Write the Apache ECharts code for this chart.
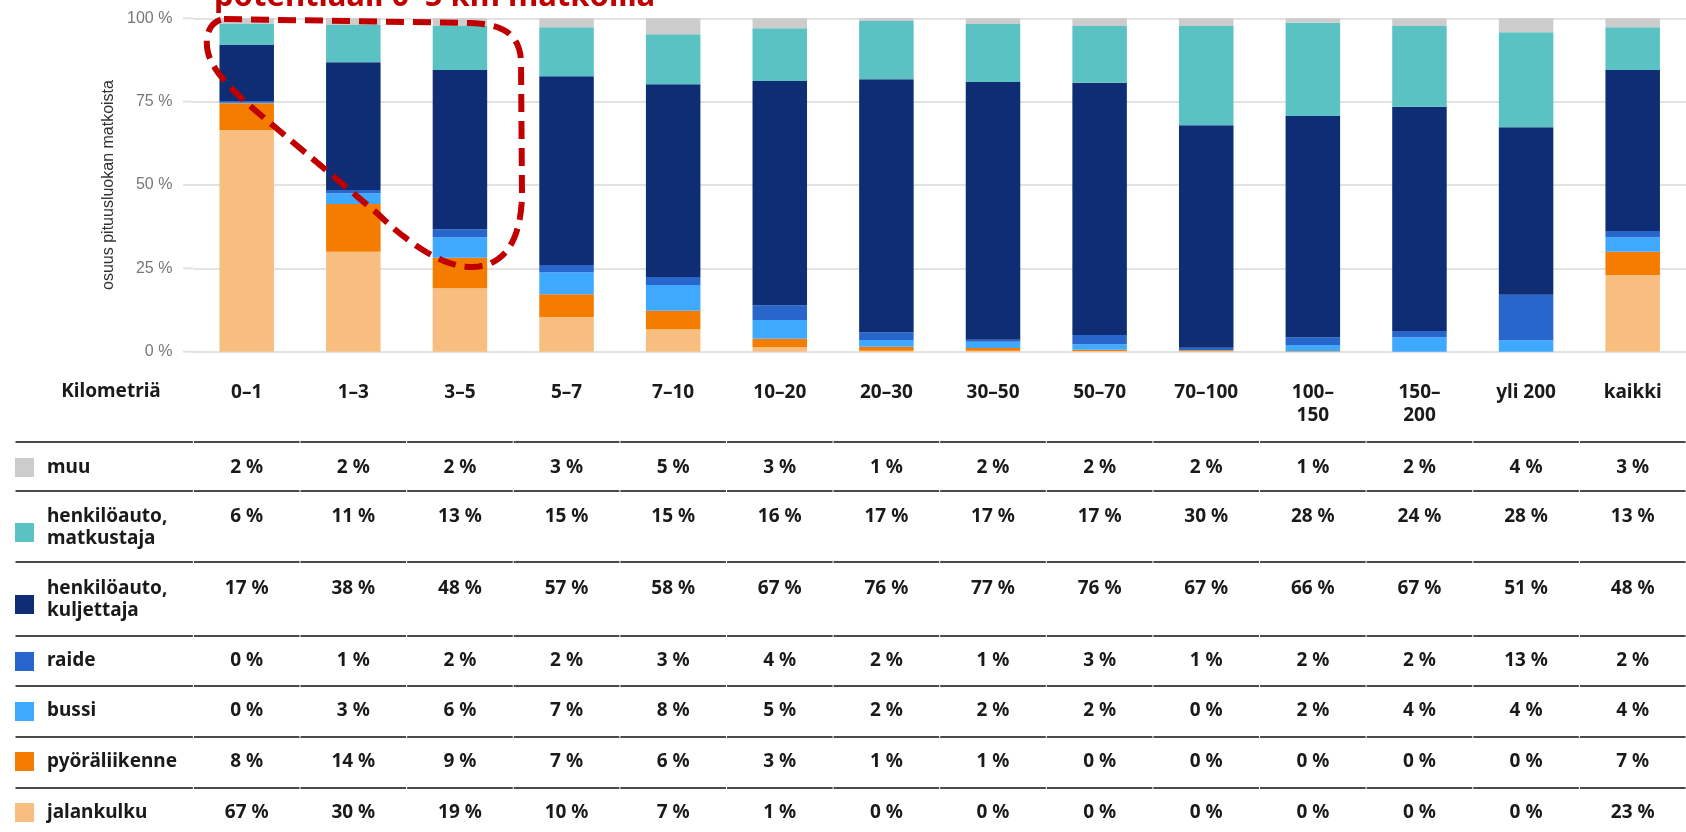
<!DOCTYPE html>
<html><head><meta charset="utf-8">
<script src="https://cdn.jsdelivr.net/npm/echarts@6/dist/echarts.min.js"></script>
<style>html,body{margin:0;padding:0;background:#fff}#c{width:1686px;height:832px}</style>
</head><body><div id="c"></div>
<script>
// ---- data ----
const categories = ['0–1','1–3','3–5','5–7','7–10','10–20','20–30','30–50','50–70','70–100','100–\n150','150–\n200','yli 200','kaikki'];
const yTicks = [0, 25, 50, 75, 100];
// bar values
const jalankulku    = [66.5, 30.0, 19.0, 10.4, 6.7, 1.3, 0.3, 0.3, 0.2, 0.1, 0.0, 0.0, 0.0, 23.0];
const pyoraliikenne = [8.0, 14.3, 9.2, 6.8, 5.6, 2.6, 1.2, 0.8, 0.4, 0.3, 0.1, 0.0, 0.0, 7.0];
const bussi         = [0.2, 3.2, 6.1, 6.6, 7.7, 5.6, 2.0, 1.9, 1.6, 0.1, 1.9, 4.3, 3.4, 4.3];
const raide         = [0.5, 1.0, 2.4, 2.2, 2.4, 4.4, 2.3, 0.6, 2.8, 0.7, 2.3, 1.9, 13.7, 1.9];
const kuljettaja    = [16.8, 38.3, 47.8, 56.6, 57.8, 67.3, 75.9, 77.3, 75.7, 66.7, 66.4, 67.3, 50.2, 48.3];
const matkustaja    = [6.3, 11.2, 13.2, 14.7, 15.0, 15.8, 17.5, 17.4, 17.0, 29.8, 28.0, 24.2, 28.5, 12.8];
const muu           = [1.7, 2.0, 2.3, 2.7, 4.8, 3.0, 0.8, 1.7, 2.3, 2.3, 1.3, 2.3, 4.2, 2.7];
// table values (rounded, as printed)
const tblMuu        = [2,2,2,3,5,3,1,2,2,2,1,2,4,3];
const tblMatkustaja = [6,11,13,15,15,16,17,17,17,30,28,24,28,13];
const tblKuljettaja = [17,38,48,57,58,67,76,77,76,67,66,67,51,48];
const tblRaide      = [0,1,2,2,3,4,2,1,3,1,2,2,13,2];
const tblBussi      = [0,3,6,7,8,5,2,2,2,0,2,4,4,4];
const tblPyora      = [8,14,9,7,6,3,1,1,0,0,0,0,0,7];
const tblJalankulku = [67,30,19,10,7,1,0,0,0,0,0,0,0,23];

// ---- styling ----
const COL = {
  muu:'#cccccc', matk:'#5bc2c4', kulj:'#0e2d75', raide:'#2966cc',
  bussi:'#3fa9ff', pyora:'#f47d00', jalan:'#f8be7f'
};
const GRID_LEFT = 193.4, GRID_TOP = 18.3, GRID_H = 333.4, GRID_W = 1501.5;
const TFONT = '"Noto Sans", "Open Sans", sans-serif';
const TCOL = '#1a1a1a';

const chart = echarts.init(document.getElementById('c'), null, {renderer:'canvas'});

function bar(name, data, color){
  return {name, type:'bar', stack:'total', data, barWidth:54.5,
    itemStyle:{color}, emphasis:{disabled:true}, animation:false};
}

chart.setOption({
  animation:false,
  backgroundColor:'#fff',
  grid:{left:GRID_LEFT, top:GRID_TOP, width:GRID_W, height:GRID_H, containLabel:false},
  xAxis:{type:'category', data:categories,
    axisLine:{show:false}, axisTick:{show:false},
    axisLabel:{interval:0, margin:29, verticalAlign:'top', color:TCOL,
      fontFamily:TFONT, fontSize:19, fontWeight:'bold', lineHeight:23}},
  yAxis:{type:'value', min:0, max:100, interval:25,
    name:'osuus pituusluokan matkoista', nameLocation:'middle', nameGap:77,
    nameTextStyle:{color:'#333', fontSize:16, fontFamily:'"Liberation Sans", Arial, sans-serif'},
    axisLine:{show:false}, axisTick:{show:false},
    axisLabel:{formatter:'{value} %', margin:21, color:'#777', fontSize:16,
      fontFamily:'"Liberation Sans", Arial, sans-serif'},
    splitLine:{lineStyle:{color:'#e2e2e2', width:2}}},
  series:[
    bar('jalankulku', jalankulku, COL.jalan),
    bar('pyöräliikenne', pyoraliikenne, COL.pyora),
    bar('bussi', bussi, COL.bussi),
    bar('raide', raide, COL.raide),
    bar('henkilöauto, kuljettaja', kuljettaja, COL.kulj),
    bar('henkilöauto, matkustaja', matkustaja, COL.matk),
    bar('muu', muu, COL.muu)
  ]
});

// ---- table + annotations ----
const rows = [
  {label:'muu', vals:tblMuu, color:COL.muu},
  {label:'henkilöauto,\nmatkustaja', vals:tblMatkustaja, color:COL.matk},
  {label:'henkilöauto,\nkuljettaja', vals:tblKuljettaja, color:COL.kulj},
  {label:'raide', vals:tblRaide, color:COL.raide},
  {label:'bussi', vals:tblBussi, color:COL.bussi},
  {label:'pyöräliikenne', vals:tblPyora, color:COL.pyora},
  {label:'jalankulku', vals:tblJalankulku, color:COL.jalan}
];
const rowLayout = [
  {text:468, sw:458, line:442},
  {text:517, sw:523, line:491},
  {text:589, sw:595, line:562},
  {text:661, sw:652, line:636},
  {text:711, sw:702, line:686},
  {text:762, sw:752, line:737},
  {text:813, sw:803, line:788}
];
const LH = 22;
const g = [];
function txt(text, x, y, align){
  return {type:'text', silent:true, z:10,
    style:{text, x, y:y - LH/2, fill:TCOL, fontFamily:TFONT, fontSize:19, fontWeight:'bold',
      align, verticalAlign:'top', lineHeight:LH}};
}
const xs = categories.map((c,i)=>chart.convertToPixel({xAxisIndex:0}, i));
const band = xs.length>1 ? xs[1]-xs[0] : 107;
g.push(txt('Kilometriä', 111, 392, 'center'));
rows.forEach((r,ri)=>{
  const L = rowLayout[ri];
  const segs = [[15, xs[0]-band/2]];
  xs.forEach(x=>segs.push([x-band/2, x+band/2]));
  segs.forEach(s=>{
    g.push({type:'line', silent:true, z:5,
      shape:{x1:s[0]+0.5, y1:L.line, x2:s[1]-0.5, y2:L.line},
      style:{stroke:'#4a4a4a', lineWidth:2}});
  });
  g.push({type:'rect', silent:true, z:10, shape:{x:15, y:L.sw, width:19, height:19}, style:{fill:r.color}});
  g.push(txt(r.label, 47, L.text, 'left'));
  r.vals.forEach((v,i)=>g.push(txt(v + ' %', xs[i], L.text, 'center')));
});
// extend gridlines to the left like the original
yTicks.forEach(t=>{
  const y = chart.convertToPixel({yAxisIndex:0}, t);
  g.push({type:'line', silent:true, z:1, shape:{x1:183, y1:y, x2:GRID_LEFT, y2:y},
    style:{stroke:'#e2e2e2', lineWidth:2}});
});
// red annotation: cut-off heading
g.push({type:'text', silent:true, z:20,
  style:{text:'potentiaali 0–5 km matkoilla', x:214, y:-3, fill:'#c00000',
    fontFamily:TFONT, fontSize:31, fontWeight:'bold', align:'left', verticalAlign:'middle'}});
// red dashed outline, sampled from line / cubic segments
const outline = [
  ['M',224,19], ['L',470,23], ['C',500,24,519,32,521,60], ['L',522,195],
  ['C',521,240,505,266,473,267], ['C',445,268,410,245,378,214], ['L',275,127],
  ['C',245,102,225,85,213,65], ['C',203,48,204,22,224,19]
];
const pts = [];
let cur = null;
outline.forEach(s=>{
  if (s[0]==='M' || s[0]==='L'){ cur=[s[1],s[2]]; pts.push(cur); }
  else {
    const [x0,y0]=cur;
    for (let k=1;k<=16;k++){
      const t=k/16, u=1-t;
      pts.push([u*u*u*x0+3*u*u*t*s[1]+3*u*t*t*s[3]+t*t*t*s[5],
                u*u*u*y0+3*u*u*t*s[2]+3*u*t*t*s[4]+t*t*t*s[6]]);
    }
    cur=[s[5],s[6]];
  }
});
g.push({type:'polyline', silent:true, z:20, shape:{points:pts},
  style:{fill:null, stroke:'#c00000', lineWidth:6, lineDash:[18,9]}});

chart.setOption({graphic:{elements:g}});
</script>
</body></html>
